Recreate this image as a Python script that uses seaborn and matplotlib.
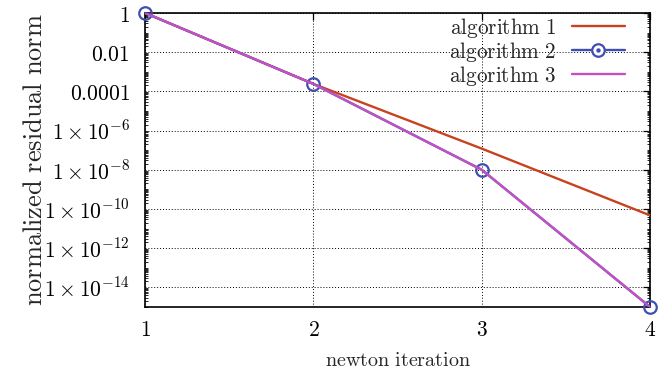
import matplotlib
matplotlib.use("Agg")
import matplotlib.pyplot as plt
from matplotlib.lines import Line2D
from matplotlib.legend_handler import HandlerTuple
from matplotlib.ticker import LogLocator, FixedLocator, NullFormatter, FuncFormatter
import numpy as np
import pandas as pd
import seaborn as sns

# Newton iterations and normalized residual norms per algorithm
iterations = [1, 2, 3, 4]
algorithm_1 = [1.0, 2.4e-4, 1.2e-7, 4.7e-11]
algorithm_2 = [1.0, 2.4e-4, 1.0e-8, 1.0e-15]
algorithm_3 = [1.0, 2.4e-4, 1.0e-8, 1.0e-15]

labels = ["algorithm 1", "algorithm 2", "algorithm 3"]
colors = ["#c8421e", "#3f4fb0", "#c252c4"]
y_ticks = [1.0, 1e-2, 1e-4, 1e-6, 1e-8, 1e-10, 1e-12, 1e-14]

df = pd.DataFrame({
    "iteration": iterations * 3,
    "residual": algorithm_1 + algorithm_2 + algorithm_3,
    "algorithm": sum([[l] * len(iterations) for l in labels], []),
})

sns.set_style("white")
plt.rcParams["mathtext.fontset"] = "cm"
plt.rcParams["font.family"] = ["DejaVu Serif"]

fig = plt.figure(figsize=(6.66, 3.72), dpi=100)
ax = fig.add_axes([0.218, 0.175, 0.758, 0.79])

# algorithm 1 (plain line)
sns.lineplot(data=df[df.algorithm == labels[0]], x="iteration", y="residual",
             ax=ax, color=colors[0], lw=1.7, legend=False, zorder=3)
# algorithm 2 (line with hollow circles)
sns.lineplot(data=df[df.algorithm == labels[1]], x="iteration", y="residual",
             ax=ax, color=colors[1], lw=1.7, marker="o", markersize=9,
             markerfacecolor="none", markeredgecolor=colors[1],
             markeredgewidth=1.6, legend=False, zorder=4, clip_on=False)
# algorithm 3 (plain line, drawn on top)
sns.lineplot(data=df[df.algorithm == labels[2]], x="iteration", y="residual",
             ax=ax, color=colors[2], lw=1.7, legend=False, zorder=5)

ax.set_yscale("log")
ax.set_xlim(1, 4)
ax.set_ylim(1e-15, 1)

ax.xaxis.set_major_locator(FixedLocator(iterations))
ax.xaxis.set_major_formatter(FuncFormatter(lambda v, p: r"$%d$" % v))

ax.yaxis.set_major_locator(FixedLocator(y_ticks))
ax.yaxis.set_minor_locator(LogLocator(base=10.0, subs=np.arange(1, 10), numticks=40))
ax.yaxis.set_minor_formatter(NullFormatter())


def ytick_label(v, pos):
    e = int(round(np.log10(v)))
    if e == 0:
        return r"$1$"
    if e >= -4:
        return r"$%s$" % ("0." + "0" * (-e - 1) + "1")
    return r"$1\times10^{%d}$" % e


ax.yaxis.set_major_formatter(FuncFormatter(ytick_label))

ax.tick_params(axis="both", which="major", direction="in", length=5, width=0.9,
               top=True, right=True, labelsize=15.5, colors="black")
ax.tick_params(axis="y", which="major", pad=11)
ax.tick_params(axis="x", which="major", pad=9)
ax.tick_params(axis="y", which="minor", direction="in", length=2.5, width=0.7,
               left=True, right=True)

ax.grid(True, which="major", color="black", linestyle=(0, (1, 2)), lw=0.7)
for s in ax.spines.values():
    s.set_color("black")
    s.set_linewidth(1.2)
    s.set_visible(True)

ax.set_xlabel(r"$\mathrm{newton\ iteration}$", fontsize=14.5, labelpad=7)
ax.set_ylabel(r"$\mathrm{normalized\ residual\ norm}$", fontsize=19, labelpad=-2)

h1 = Line2D([], [], color=colors[0], lw=1.7)
h2a = Line2D([], [], color=colors[1], lw=1.7, marker="o", markersize=9,
             markerfacecolor="white", markeredgecolor=colors[1], markeredgewidth=1.6)
h2b = Line2D([], [], color=colors[1], lw=0, marker="o", markersize=2.2)
h3 = Line2D([], [], color=colors[2], lw=1.7)
leg = ax.legend([h1, (h2a, h2b), h3],
                [r"$\mathrm{%s}$" % l.replace(" ", r"\ ") for l in labels],
                handler_map={tuple: HandlerTuple(ndivide=1, pad=0)},
                loc="upper right", frameon=False, markerfirst=False,
                fontsize=15.3, handlelength=2.5, handletextpad=0.7,
                labelspacing=0.0, borderaxespad=0.2,
                bbox_to_anchor=(0.975, 1.034))

fig.savefig("out.png", dpi=100)
